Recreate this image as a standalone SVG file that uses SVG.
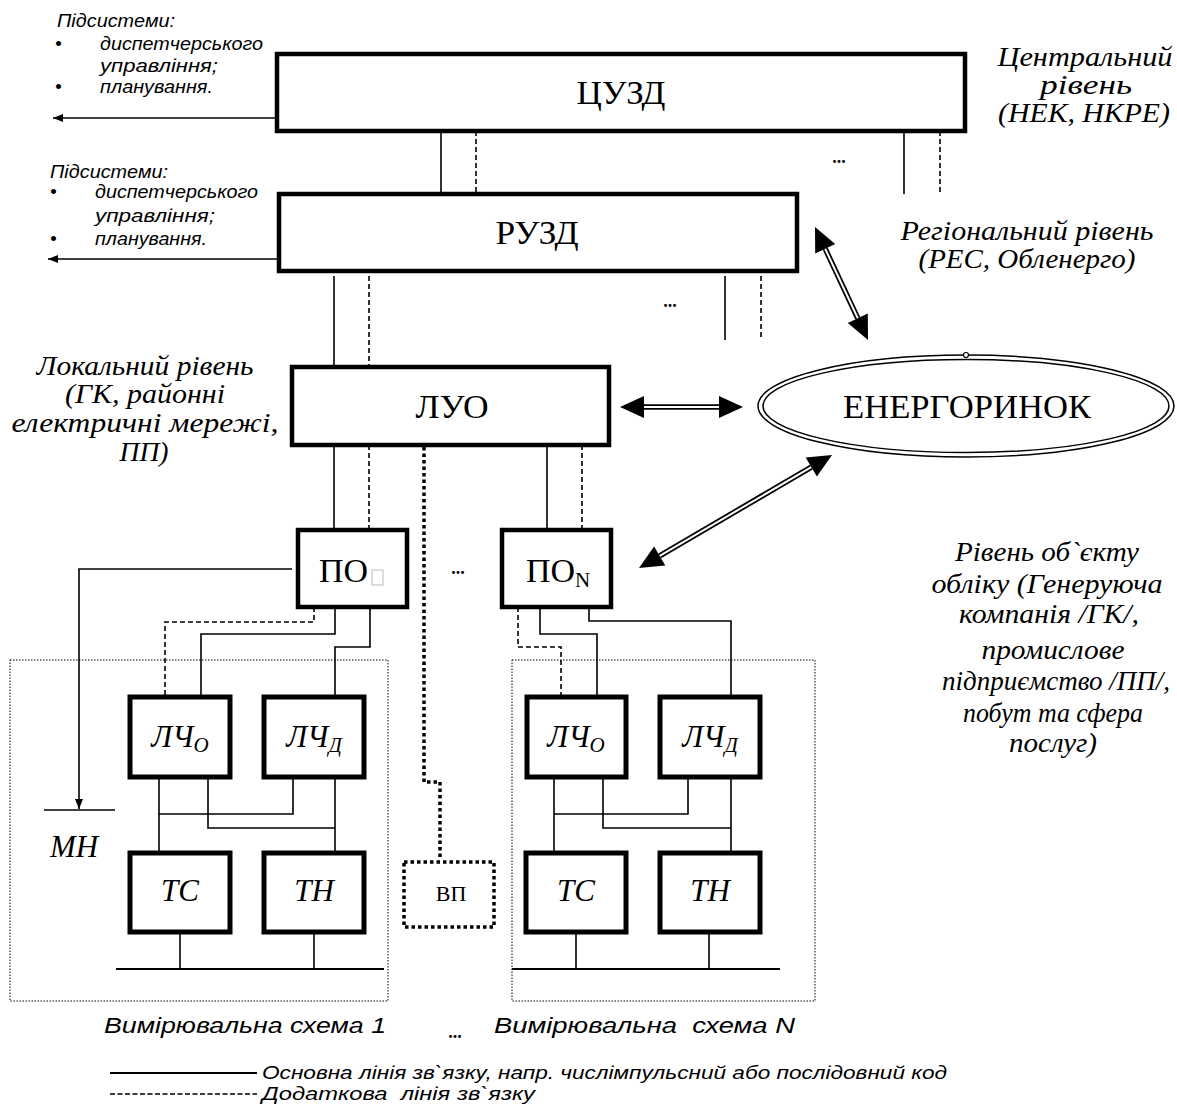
<svg xmlns="http://www.w3.org/2000/svg" width="1177" height="1106" viewBox="0 0 1177 1106">
<defs>
<style>
.box{fill:#fff;stroke:#000;stroke-width:4.5}
.sub{fill:#fff;stroke:#000;stroke-width:5}
.ln{fill:none;stroke:#000;stroke-width:1.6}
.ds{fill:none;stroke:#000;stroke-width:1.6;stroke-dasharray:5 3}
.dt{fill:none;stroke:#000;stroke-width:1;stroke-dasharray:1.5 1.5}
.thickdot{fill:none;stroke:#000;stroke-width:3.5;stroke-dasharray:3.5 3}
.dbl{stroke:#000;stroke-width:5.5;fill:none}
.dblw{stroke:#fff;stroke-width:2;fill:none}
.serif{font-family:"Liberation Serif","Times New Roman",serif}
.big{font-family:"Liberation Serif","Times New Roman",serif;font-size:33px;text-anchor:middle}
.it{font-family:"Liberation Serif","Times New Roman",serif;font-style:italic;font-size:31px;text-anchor:middle}
.lvl{font-family:"Liberation Serif","Times New Roman",serif;font-style:italic;font-size:28px;text-anchor:middle}
.ss{font-family:"Liberation Sans",Arial,sans-serif;font-style:italic;font-size:19px}
.cap{font-family:"Liberation Sans",Arial,sans-serif;font-style:italic;font-size:22px}
.leg{font-family:"Liberation Sans",Arial,sans-serif;font-style:italic;font-size:18px}
.dots{font-family:"Liberation Serif","Times New Roman",serif;font-weight:bold;font-size:18px;text-anchor:middle}
</style>
<marker id="ah" markerWidth="12" markerHeight="12" refX="10" refY="5" orient="auto" markerUnits="userSpaceOnUse">
<path d="M0,1 L10,5 L0,9 Z" fill="#000"/>
</marker>
</defs>

<g id="connectors">
<line class="ln" x1="441" y1="131" x2="441" y2="194"/>
<line class="ds" x1="476" y1="131" x2="476" y2="194"/>
<line class="ln" x1="904" y1="131" x2="904" y2="194"/>
<line class="ds" x1="940" y1="131" x2="940" y2="194"/>
<line class="ln" x1="334" y1="276" x2="334" y2="367"/>
<line class="ds" x1="369" y1="276" x2="369" y2="367"/>
<line class="ln" x1="725" y1="276" x2="725" y2="340"/>
<line class="ds" x1="761" y1="276" x2="761" y2="340"/>
<line class="ln" x1="334" y1="445" x2="334" y2="530"/>
<line class="ds" x1="369" y1="445" x2="369" y2="530"/>
<line class="ln" x1="547" y1="445" x2="547" y2="530"/>
<line class="ds" x1="582" y1="445" x2="582" y2="530"/>
<polyline class="thickdot" points="424,447 424,782 440,782 440,860"/>
<line class="ln" x1="277" y1="118" x2="53" y2="118" marker-end="url(#ah)"/>
<line class="ln" x1="277" y1="259" x2="48" y2="259" marker-end="url(#ah)"/>
<polyline class="ln" points="292,569 79,569 79,809" marker-end="url(#ah)"/>
<line class="ln" x1="44" y1="810" x2="115" y2="810"/>
<polyline class="ds" points="314,607 314,622 165,622 165,697"/>
<polyline class="ln" points="335,607 335,634 201,634 201,697"/>
<polyline class="ln" points="370,607 370,647 335,647 335,697"/>
<polyline class="ds" points="518,607 518,647 561,647 561,697"/>
<polyline class="ln" points="540,607 540,634 597,634 597,697"/>
<polyline class="ln" points="589,607 589,621 731,621 731,697"/>
<line class="ln" x1="159" y1="777" x2="159" y2="853"/>
<polyline class="ln" points="293,777 293,814 159,814"/>
<polyline class="ln" points="208,777 208,828 335,828"/>
<line class="ln" x1="335" y1="777" x2="335" y2="853"/>
<line class="ln" x1="180" y1="932" x2="180" y2="969"/>
<line class="ln" x1="314" y1="932" x2="314" y2="969"/>
<line x1="116" y1="969" x2="384" y2="969" stroke="#000" stroke-width="2"/>
<line class="ln" x1="554" y1="777" x2="554" y2="853"/>
<polyline class="ln" points="688,777 688,814 554,814"/>
<polyline class="ln" points="603,777 603,828 731,828"/>
<line class="ln" x1="731" y1="777" x2="731" y2="853"/>
<line class="ln" x1="576" y1="932" x2="576" y2="969"/>
<line class="ln" x1="709" y1="932" x2="709" y2="969"/>
<line x1="512" y1="969" x2="780" y2="969" stroke="#000" stroke-width="2"/>
<g id="arrow-luo-market">
<line class="dbl" x1="642" y1="407" x2="721" y2="407"/>
<line class="dblw" x1="640" y1="407" x2="723" y2="407"/>
<polygon points="620,407 644,396 644,418" fill="#000"/>
<polygon points="743,407 719,396 719,418" fill="#000"/>
</g>
<g id="arrow-ruzd-market">
<line class="dbl" x1="825.2" y1="248.7" x2="857.8" y2="318.3"/>
<line class="dblw" x1="824.3" y1="246.9" x2="858.7" y2="320.1"/>
<polygon points="815,227 815.2,253.4 835.2,244" fill="#000"/>
<polygon points="868,340 847.8,323 867.8,313.6" fill="#000"/>
</g>
<g id="arrow-market-pon">
<line class="dbl" x1="811.3" y1="467.1" x2="659.7" y2="555.9"/>
<line class="dblw" x1="813" y1="466.1" x2="658" y2="556.9"/>
<polygon points="832,455 816.9,476.6 805.7,457.6" fill="#000"/>
<polygon points="639,568 665.3,565.4 654.1,546.4" fill="#000"/>
</g>
</g>

<g id="containers">
<rect class="dt" x="10" y="660" width="378" height="341"/>
<rect class="dt" x="512" y="660" width="303" height="341"/>
</g>

<g id="node-cuzd">
<rect class="box" x="277" y="54" width="688" height="77"/>
<text class="big" x="621" y="104" textLength="89" lengthAdjust="spacingAndGlyphs">ЦУЗД</text>
</g>
<g id="node-ruzd">
<rect class="box" x="279" y="194" width="518" height="77"/>
<text class="big" x="537" y="244" textLength="83" lengthAdjust="spacingAndGlyphs">РУЗД</text>
</g>
<g id="node-luo">
<rect class="box" x="292" y="367" width="317" height="78"/>
<text class="big" x="452" y="418" textLength="73" lengthAdjust="spacingAndGlyphs">ЛУО</text>
</g>
<g id="node-market">
<ellipse cx="966" cy="406" rx="208" ry="51" fill="#fff" stroke="#000" stroke-width="1.5"/>
<ellipse cx="966" cy="406" rx="203" ry="46.5" fill="none" stroke="#000" stroke-width="1.5"/>
<circle cx="966" cy="355" r="2.5" fill="#fff" stroke="#000" stroke-width="1.2"/>
<text class="big" x="967" y="418" font-size="35" textLength="248" lengthAdjust="spacingAndGlyphs">ЕНЕРГОРИНОК</text>
</g>
<g id="node-po1">
<rect class="box" x="298" y="530" width="109" height="77"/>
<text class="serif" x="319" y="582" font-size="33" textLength="49" lengthAdjust="spacingAndGlyphs">ПО</text>
<rect x="372" y="570" width="11" height="15" fill="#fff" stroke="#bbb" stroke-width="1"/>
</g>
<g id="node-pon">
<rect class="box" x="502" y="530" width="109" height="77"/>
<text class="serif" x="526" y="582" font-size="33" textLength="49" lengthAdjust="spacingAndGlyphs">ПО</text>
<text class="serif" x="575" y="587" font-size="21">N</text>
</g>
<g id="node-lcho1">
<rect class="sub" x="130" y="697" width="100" height="80"/>
<text class="it" x="180" y="747" font-size="32">ЛЧ<tspan font-size="21" dy="5">О</tspan></text>
</g>
<g id="node-lchd1">
<rect class="sub" x="264" y="697" width="100" height="80"/>
<text class="it" x="314" y="747" font-size="32">ЛЧ<tspan font-size="21" dy="5">Д</tspan></text>
</g>
<g id="node-ts1">
<rect class="sub" x="130" y="853" width="100" height="79"/>
<text class="it" x="180" y="901">ТС</text>
</g>
<g id="node-tn1">
<rect class="sub" x="264" y="853" width="100" height="79"/>
<text class="it" x="314" y="901">ТН</text>
</g>
<g id="node-lcho2">
<rect class="sub" x="527" y="697" width="99" height="80"/>
<text class="it" x="576" y="747" font-size="32">ЛЧ<tspan font-size="21" dy="5">О</tspan></text>
</g>
<g id="node-lchd2">
<rect class="sub" x="660" y="697" width="100" height="80"/>
<text class="it" x="710" y="747" font-size="32">ЛЧ<tspan font-size="21" dy="5">Д</tspan></text>
</g>
<g id="node-ts2">
<rect class="sub" x="526" y="853" width="100" height="79"/>
<text class="it" x="576" y="901">ТС</text>
</g>
<g id="node-tn2">
<rect class="sub" x="660" y="853" width="100" height="79"/>
<text class="it" x="710" y="901">ТН</text>
</g>
<g id="node-vp">
<rect x="404" y="862" width="90" height="65" fill="#fff" stroke="#000" stroke-width="3.5" stroke-dasharray="3.5 3"/>
<text class="serif" x="451" y="901" font-size="22" text-anchor="middle">ВП</text>
</g>
<g id="node-mn">
<text class="it" x="74" y="857">МН</text>
</g>

<g id="labels">
<text class="ss" x="57" y="27" textLength="118" lengthAdjust="spacingAndGlyphs">Підсистеми:</text>
<text class="ss" x="55" y="50">•</text>
<text class="ss" x="100" y="50" textLength="163" lengthAdjust="spacingAndGlyphs">диспетчерського</text>
<text class="ss" x="100" y="72" textLength="118" lengthAdjust="spacingAndGlyphs">управління;</text>
<text class="ss" x="55" y="93">•</text>
<text class="ss" x="100" y="93" textLength="113" lengthAdjust="spacingAndGlyphs">планування.</text>

<text class="ss" x="50" y="178" textLength="118" lengthAdjust="spacingAndGlyphs">Підсистеми:</text>
<text class="ss" x="50" y="198">•</text>
<text class="ss" x="95" y="198" textLength="163" lengthAdjust="spacingAndGlyphs">диспетчерського</text>
<text class="ss" x="95" y="222" textLength="120" lengthAdjust="spacingAndGlyphs">управління;</text>
<text class="ss" x="50" y="245">•</text>
<text class="ss" x="95" y="245" textLength="112" lengthAdjust="spacingAndGlyphs">планування.</text>

<text class="lvl" x="1085" y="66" textLength="175" lengthAdjust="spacingAndGlyphs">Центральний</text>
<text class="lvl" x="1086" y="94" textLength="92" lengthAdjust="spacingAndGlyphs">рівень</text>
<text class="lvl" x="1084" y="122" textLength="172" lengthAdjust="spacingAndGlyphs">(НЕК, НКРЕ)</text>

<text class="lvl" x="1027" y="240" textLength="253" lengthAdjust="spacingAndGlyphs">Регіональний рівень</text>
<text class="lvl" x="1027" y="268" textLength="217" lengthAdjust="spacingAndGlyphs">(РЕС, Обленерго)</text>

<text class="lvl" x="145" y="375" textLength="217" lengthAdjust="spacingAndGlyphs">Локальний рівень</text>
<text class="lvl" x="145" y="403" textLength="160" lengthAdjust="spacingAndGlyphs">(ГК, районні</text>
<text class="lvl" x="145" y="432" textLength="267" lengthAdjust="spacingAndGlyphs">електричні мережі,</text>
<text class="lvl" x="144" y="461" textLength="49" lengthAdjust="spacingAndGlyphs">ПП)</text>

<text class="lvl" x="1047" y="561" textLength="184" lengthAdjust="spacingAndGlyphs">Рівень об`єкту</text>
<text class="lvl" x="1047" y="593" textLength="231" lengthAdjust="spacingAndGlyphs">обліку (Генеруюча</text>
<text class="lvl" x="1049" y="623" textLength="180" lengthAdjust="spacingAndGlyphs">компанія /ГК/,</text>
<text class="lvl" x="1053" y="659" textLength="143" lengthAdjust="spacingAndGlyphs">промислове</text>
<text class="lvl" x="1056" y="690" textLength="228" lengthAdjust="spacingAndGlyphs">підприємство /ПП/,</text>
<text class="lvl" x="1053" y="722" textLength="180" lengthAdjust="spacingAndGlyphs">побут та сфера</text>
<text class="lvl" x="1053" y="752" textLength="88" lengthAdjust="spacingAndGlyphs">послуг)</text>

<text class="dots" x="839" y="163">...</text>
<text class="dots" x="670" y="307">...</text>
<text class="dots" x="458" y="574">...</text>
<text class="dots" x="455" y="1038">...</text>

<text class="cap" x="104" y="1033" textLength="282" lengthAdjust="spacingAndGlyphs">Вимірювальна схема 1</text>
<text class="cap" x="494" y="1033" xml:space="preserve" textLength="301" lengthAdjust="spacingAndGlyphs">Вимірювальна  схема N</text>

<line x1="110" y1="1073" x2="257" y2="1073" stroke="#000" stroke-width="2"/>
<text class="leg" x="262" y="1079" textLength="685" lengthAdjust="spacingAndGlyphs">Основна лінія зв`язку, напр. числімпульсний або послідовний код</text>
<line x1="110" y1="1094" x2="257" y2="1094" stroke="#000" stroke-width="1.5" stroke-dasharray="5 2.5"/>
<text class="leg" x="262" y="1100" xml:space="preserve" textLength="273" lengthAdjust="spacingAndGlyphs">Додаткова  лінія зв`язку</text>
</g>
</svg>
